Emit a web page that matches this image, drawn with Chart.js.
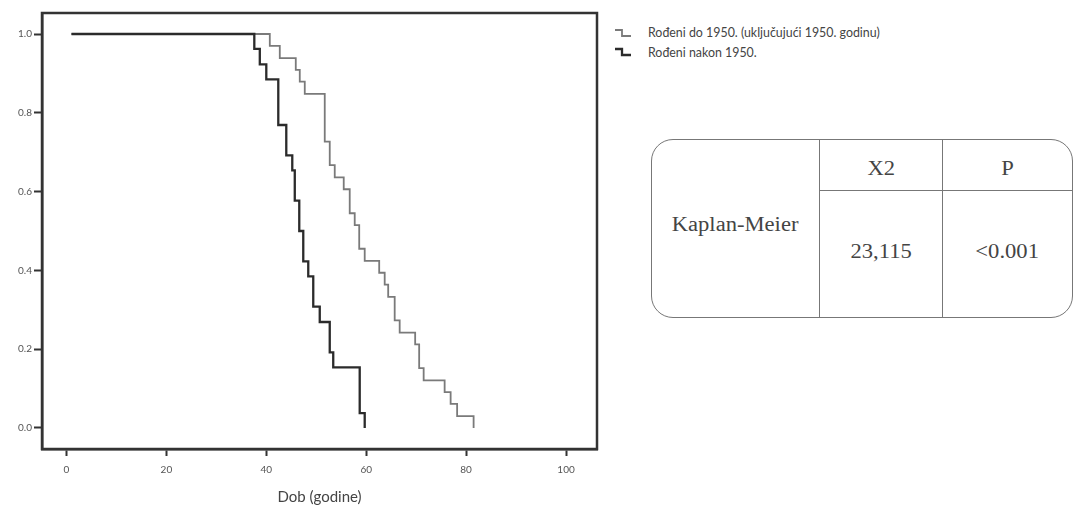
<!DOCTYPE html>
<html>
<head>
<meta charset="utf-8">
<script src="https://cdn.jsdelivr.net/npm/chart.js@4/dist/chart.umd.min.js"></script>
<style>
  body { margin: 0; background: #fff; width: 1075px; height: 507px; position: relative; overflow: hidden; font-family: Lato, "Open Sans", sans-serif; }
  #wrap { position: absolute; left: 0; top: 0; width: 605px; height: 507px; }
  #legend { position: absolute; left: 614px; top: 23px; }
  .leg { display: flex; align-items: center; height: 19.5px; font-size: 12.4px; color: #444; }
  .leg svg { margin-right: 16px; }
  #km { position: absolute; left: 651px; top: 139px; width: 422px; height: 179px; box-sizing: border-box;
        border: 1.3px solid #777; border-radius: 22px; display: grid;
        grid-template-columns: 168px 123px 1fr; grid-template-rows: 51px 1fr;
        font-family: "Liberation Serif", "DejaVu Serif", serif; color: #444; font-size: 20px; }
  #km div { display: flex; align-items: center; justify-content: center; }
  #km span { display: inline-block; transform: scaleX(1.13); }
  .c0 { grid-row: 1 / span 2; border-right: 1.3px solid #777; padding-bottom: 8px; }
  .h1 { border-right: 1.3px solid #777; border-bottom: 1.3px solid #777; padding-top: 7px; }
  .h2 { border-bottom: 1.3px solid #777; padding-top: 7px; }
  .v1 { border-right: 1.3px solid #777; padding-bottom: 6px; }
  .v2 { padding-bottom: 6px; }
</style>
</head>
<body>
<div id="wrap"><canvas id="km-chart" width="605" height="507"></canvas></div>
<div id="legend"></div>
<div id="km">
  <div class="c0"><span>Kaplan-Meier</span></div>
  <div class="h1"><span>X2</span></div>
  <div class="h2"><span>P</span></div>
  <div class="v1"><span>23,115</span></div>
  <div class="v2"><span>&lt;0.001</span></div>
</div>
<script>
// Rođeni do 1950. (sivo)
const dobStariji = [1, 40.7, 42.7, 45.9, 46.7, 47.7, 51.7, 52.7, 53.7, 55.5, 56.7, 57.7, 58.6, 59.7, 62.6, 63.7, 64.4, 65.7, 66.7, 69.8, 70.6, 71.5, 75.7, 76.9, 78.2, 81.5];
const prezStariji = [1, 0.970, 0.939, 0.909, 0.879, 0.848, 0.727, 0.667, 0.636, 0.606, 0.545, 0.515, 0.455, 0.424, 0.394, 0.364, 0.333, 0.273, 0.242, 0.212, 0.152, 0.121, 0.091, 0.061, 0.030, 0.0];
// Rođeni nakon 1950. (crno)
const dobMladji = [1, 37.6, 38.7, 40.0, 42.4, 44.0, 45.2, 45.7, 46.6, 47.4, 48.4, 49.4, 50.7, 52.7, 53.4, 58.7, 59.7];
const prezMladji = [1, 0.962, 0.923, 0.885, 0.769, 0.692, 0.654, 0.577, 0.500, 0.423, 0.385, 0.308, 0.269, 0.192, 0.154, 0.038, 0.0];

const oznake = ['Rođeni do 1950. (uključujući 1950. godinu)', 'Rođeni nakon 1950.'];
const xTicks = [0, 20, 40, 60, 80, 100];
const yTicks = [0, 0.2, 0.4, 0.6, 0.8, 1.0];

const tocke = (xs, ys) => xs.map((x, i) => ({ x: x, y: ys[i] }));

const okvir = {
    id: 'okvir',
    afterDraw(chart) {
        const a = chart.chartArea, c = chart.ctx;
        c.save();
        c.strokeStyle = '#333';
        c.lineWidth = 2.5;
        c.strokeRect(a.left, a.top, a.right - a.left, a.bottom - a.top);
        c.restore();
    }
};

const chart = new Chart(document.getElementById('km-chart').getContext('2d'), {
    type: 'line',
    data: {
        datasets: [{
            label: oznake[0],
            data: tocke(dobStariji, prezStariji),
            borderColor: '#7a7a7a',
            borderWidth: 1.8,
            stepped: 'before',
            pointRadius: 0,
            order: 1
        }, {
            label: oznake[1],
            data: tocke(dobMladji, prezMladji),
            borderColor: '#2b2b2b',
            borderWidth: 2.3,
            stepped: 'before',
            pointRadius: 0,
            order: 0
        }]
    },
    options: {
        responsive: false,
        animation: false,
        layout: { padding: { top: 13, right: 8, left: 0, bottom: 0 } },
        plugins: { legend: { display: false }, tooltip: { enabled: false } },
        scales: {
            x: {
                type: 'linear', min: -4.9, max: 106.2,
                afterBuildTicks: s => { s.ticks = xTicks.map(v => ({ value: v })); },
                afterFit: s => { s.height = 58; },
                grid: { drawOnChartArea: false, drawTicks: true, tickLength: 7, tickColor: '#333', tickWidth: 2 },
                border: { display: true, color: '#333', width: 2.5 },
                ticks: { color: '#555', padding: 8, font: { family: 'Lato', size: 10 } },
                title: { display: true, text: 'Dob (godine)', color: '#444', padding: { top: 0, bottom: 1 }, font: { family: 'Lato', size: 15 } }
            },
            y: {
                type: 'linear', min: -0.0533, max: 1.0533,
                afterBuildTicks: s => { s.ticks = yTicks.map(v => ({ value: v })); },
                afterFit: s => { s.width = 42; },
                grid: { drawOnChartArea: false, drawTicks: true, tickLength: 8, tickColor: '#333', tickWidth: 2 },
                border: { display: true, color: '#333', width: 2.5 },
                ticks: { color: '#555', padding: 2, font: { family: 'Lato', size: 10 }, callback: v => v.toFixed(1) }
            }
        }
    },
    plugins: [okvir]
});

// legenda sa stepenastim ikonama
const leg = document.getElementById('legend');
chart.data.datasets.forEach(ds => {
    const row = document.createElement('div');
    row.className = 'leg';
    row.innerHTML = '<svg width="18" height="10"><path d="M1 2 H8 V8 H17" fill="none" stroke="' + ds.borderColor +
        '" stroke-width="' + ds.borderWidth + '"/></svg><span>' + ds.label + '</span>';
    leg.appendChild(row);
});
</script>
</body>
</html>
